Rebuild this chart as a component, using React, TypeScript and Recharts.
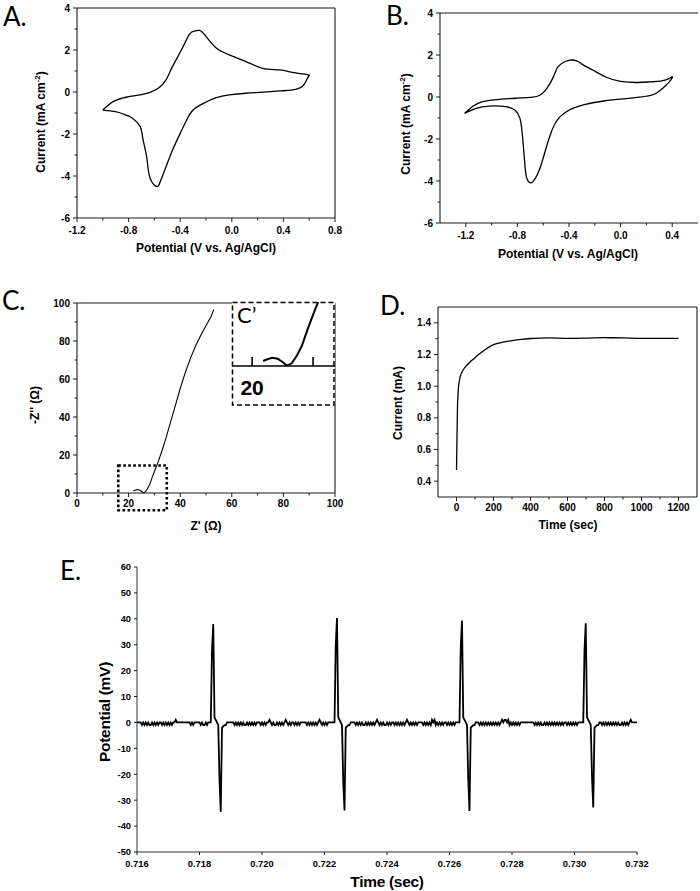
import React from "react";
import { Line, LineChart, ReferenceArea, ReferenceLine, XAxis, YAxis } from "recharts";

// ---------- A: cyclic voltammogram ----------
const cvAPotential = [
    -1.0, -0.92, -0.82, -0.71, -0.64, -0.57, -0.51, -0.46, -0.39, -0.33, -0.29, -0.25, -0.2, -0.12, -0.02, 0.11,
    0.24, 0.37, 0.47, 0.55, 0.6, 0.59, 0.55, 0.47, 0.37, 0.24, 0.11, -0.02, -0.12, -0.22, -0.3, -0.35, -0.4, -0.46,
    -0.51, -0.55, -0.57, -0.6, -0.64, -0.66, -0.69, -0.71, -0.77, -0.82, -0.9, -1.0,
];
const cvACurrent = [
    -0.86, -0.46, -0.25, -0.14, -0.03, 0.18, 0.58, 1.21, 2.01, 2.73, 2.9, 2.93, 2.65, 2.09, 1.77, 1.45, 1.13, 1.05,
    0.93, 0.86, 0.8, 0.7, 0.29, 0.1, 0.05, -0.01, -0.06, -0.14, -0.27, -0.54, -0.86, -1.33, -1.97, -2.77, -3.56,
    -4.2, -4.47, -4.44, -3.96, -3.09, -2.21, -1.65, -1.25, -1.1, -0.94, -0.86,
];

// ---------- B: cyclic voltammogram ----------
const cvBPotential = [
    -1.21, -1.15, -1.07, -0.94, -0.81, -0.68, -0.63, -0.58, -0.52, -0.485, -0.43, -0.39, -0.34, -0.29, -0.21, -0.11,
    0.0, 0.13, 0.23, 0.31, 0.37, 0.4, 0.39, 0.335, 0.26, 0.15, 0.02, -0.13, -0.29, -0.42, -0.5, -0.55, -0.59, -0.63,
    -0.67, -0.7, -0.73, -0.745, -0.76, -0.78, -0.82, -0.89, -1.02, -1.12, -1.21,
];
const cvBCurrent = [
    -0.78, -0.46, -0.22, -0.11, -0.06, -0.01, 0.07, 0.34, 0.97, 1.45, 1.69, 1.76, 1.72, 1.53, 1.26, 0.94, 0.74, 0.69,
    0.72, 0.76, 0.86, 0.97, 0.82, 0.46, 0.13, -0.01, -0.09, -0.19, -0.38, -0.7, -1.18, -1.89, -2.69, -3.48, -3.96,
    -4.09, -3.8, -3.01, -1.89, -1.02, -0.62, -0.46, -0.43, -0.54, -0.78,
];

// ---------- C: Nyquist plot ----------
const eisReal = [21.8, 22.5, 23.3, 24.2, 25.0, 25.7, 26.5, 27.3, 28.2, 29.2, 30.3, 31.5, 33.0, 34.5, 36.2, 38.0, 40.0, 42.0, 44.0, 46.0, 48.0, 50.0, 52.0, 53.0];
const eisImag = [1.1, 1.5, 1.8, 1.6, 0.9, 0.1, 0.6, 2.2, 4.6, 8.5, 12.4, 16.5, 22.5, 29, 37, 45.5, 55, 63.5, 71, 77.5, 83, 88, 93, 96.5];

// ---------- D: chronoamperometry ----------
const caTime = [0, 2, 5, 10, 15, 20, 30, 40, 50, 60, 80, 100, 120, 140, 160, 180, 200, 250, 300, 350, 400, 450, 500, 600, 700, 800, 900, 1000, 1100, 1200];
const caCurrent = [
    0.47, 0.62, 0.85, 0.98, 1.03, 1.06, 1.09, 1.11, 1.125, 1.137, 1.16, 1.18, 1.2, 1.218, 1.235, 1.25, 1.262, 1.278,
    1.288, 1.296, 1.301, 1.304, 1.305, 1.302, 1.303, 1.306, 1.305, 1.302, 1.302, 1.302,
];

// ---------- E: potential trace (sample every 0.04 ms from 0.716 s) ----------
const E_START = 0.716;
const E_STEP = 0.00004;
// baseline noise: "0" = 0 mV, "-" = -1 mV, "+" = +1 mV
const eBaseline0 = ["0000-0-0-0", "--0-0-0-00", "-0-0-0-0-0", "0+00000000", "000-0-0000", "0-0--0-000"].join("");
const eBaseline1 = ["000000-0-0", "-0-0--0-0-", "0-0-000-0-", "0-00+0-0--", "0-0-0-0+0-", "0-00-0-0-0", "0000-0-0-0", "-0-0+0-0-0", "-000000"].join("");
const eBaseline2 = ["0000-0-0-0", "--0-0-0-0-", "0+0-0-0--0", "-0-00-0-0-", "0-0-0+0-0-", "0-0-0000-0", "-0-0-+0+-0", "-0-0-00-0-", "0-0-0000"].join("");
const eBaseline3 = ["000-0-0-0-", "0-0-0-0-0-", "0+0++0+-0-", "0-0-0-0000", "0000000-0-", "0-0--0-0-0", "-0-0-0-0-0", "-00-0-0-0-", "0-00000"].join("");
const eBaseline4 = ["00-0-0-0-0", "-0-0-0--0-", "0-0-0+0000", "0"].join("");
const eSpike1 = [28, 38, 2, 1, 0, -1, -22, -34.5, -2, -1.5, -1, -1];
const eSpike2 = [30, 40.3, 2, 1, 0, -1, -23, -34, -2, -1.5, -1, -1];
const eSpike3 = [29, 39.3, 2, 1, 0, -1, -22, -34.2, -2, -1.5, -1, -1];
const eSpike4 = [28, 38.3, 2, 1, 0, -1, -21, -32.8, -2, -1.5, -1, -1];

const noiseCode: Record<string, number> = { "0": 0, "-": -1, "+": 1 };
const decode = (s: string) => s.split("").map((c) => noiseCode[c]);

const ePotential = [
    ...decode(eBaseline0), ...eSpike1,
    ...decode(eBaseline1), ...eSpike2,
    ...decode(eBaseline2), ...eSpike3,
    ...decode(eBaseline3), ...eSpike4,
    ...decode(eBaseline4),
];

const zip = (xs: number[], ys: number[]) => xs.map((x, i) => ({ x, y: ys[i] }));
const cvAData = zip(cvAPotential, cvACurrent);
const cvBData = zip(cvBPotential, cvBCurrent);
const eisData = zip(eisReal, eisImag);
const caData = zip(caTime, caCurrent);
const eData = ePotential.map((y, i) => ({ x: E_START + i * E_STEP, y }));

// ---------- ticks ----------
const cvYMajor = [-6, -4, -2, 0, 2, 4];
const cvYMinor = [-5, -3, -1, 1, 3];
const cvAXMajor = [-1.2, -0.8, -0.4, 0, 0.4, 0.8];
const cvAXMinor = [-1.0, -0.6, -0.2, 0.2, 0.6];
const cvBXMajor = [-1.2, -0.8, -0.4, 0, 0.4];
const cvBXMinor = [-1.0, -0.6, -0.2, 0.2];
const eisMajor = [0, 20, 40, 60, 80, 100];
const eisMinor = [10, 30, 50, 70, 90];
const caXMajor = [0, 200, 400, 600, 800, 1000, 1200];
const caXMinor = [100, 300, 500, 700, 900, 1100];
const caYMajor = [0.4, 0.6, 0.8, 1.0, 1.2, 1.4];
const caYMinor = [0.5, 0.7, 0.9, 1.1, 1.3];
const eYTicks = [-50, -40, -30, -20, -10, 0, 10, 20, 30, 40, 50, 60];
const eXTicks = [0.716, 0.718, 0.72, 0.722, 0.724, 0.726, 0.728, 0.73, 0.732];

const SANS = "'Liberation Sans', Arial, Helvetica, sans-serif";
const AXIS = "#1a1a1a";

type TickOpts = {
    majors: number[];
    fmt: (v: number) => string;
    major: number;
    minor: number;
    gap: number;
    size: number;
};

const isIn = (list: number[], v: number) => list.some((m) => Math.abs(m - v) < 1e-9);

const makeXTick = (o: TickOpts) => (p: any) => {
    const v = Number(p.payload.value);
    const major = isIn(o.majors, v);
    return (
        <g>
            <line x1={p.x} x2={p.x} y1={p.y} y2={p.y + (major ? o.major : o.minor)} stroke={AXIS} strokeWidth={1} />
            {major && (
                <text x={p.x} y={p.y + o.gap} textAnchor="middle" fontFamily={SANS} fontWeight={700} fontSize={o.size} fill="#000">
                    {o.fmt(v)}
                </text>
            )}
        </g>
    );
};

const makeYTick = (o: TickOpts) => (p: any) => {
    const v = Number(p.payload.value);
    const major = isIn(o.majors, v);
    return (
        <g>
            <line x1={p.x} x2={p.x - (major ? o.major : o.minor)} y1={p.y} y2={p.y} stroke={AXIS} strokeWidth={1} />
            {major && (
                <text x={p.x - o.gap} y={p.y} dy="0.36em" textAnchor="end" fontFamily={SANS} fontWeight={700} fontSize={o.size} fill="#000">
                    {o.fmt(v)}
                </text>
            )}
        </g>
    );
};

const insetTick = (p: any) => {
    const v = Number(p.payload.value);
    return (
        <g>
            <line x1={p.x} x2={p.x} y1={p.y} y2={p.y - 9} stroke="#000" strokeWidth={1.6} />
            {v === 20 && (
                <text x={p.x} y={p.y + 29} textAnchor="middle" fontFamily={SANS} fontWeight={700} fontSize={21} fill="#000">
                    20
                </text>
            )}
        </g>
    );
};

const fmt1 = (v: number) => v.toFixed(1);
const fmt0 = (v: number) => String(Math.round(v));
const fmt3 = (v: number) => v.toFixed(3);

// ---------- layout helpers ----------
type Box = { l: number; t: number; r: number; b: number };
const PAD_L = 60;
const PAD_B = 40;
const PAD_T = 10;

function Plot({ box, data, padR = 10, children }: { box: Box; data: any[]; padR?: number; children: React.ReactNode }) {
    const w = box.r - box.l + PAD_L + padR;
    const h = box.b - box.t + PAD_T + PAD_B;
    return (
        <div style={{ position: "absolute", left: box.l - PAD_L, top: box.t - PAD_T }}>
            <LineChart width={w} height={h} data={data} margin={{ top: PAD_T, right: padR, bottom: 0, left: 0 }}>
                {children}
            </LineChart>
        </div>
    );
}

function Title({ x, y, rotate, style, children }: { x: number; y: number; rotate?: boolean; style?: React.CSSProperties; children: React.ReactNode }) {
    return (
        <div
            style={{
                position: "absolute",
                left: x,
                top: y,
                transform: `translate(-50%, -50%)${rotate ? " rotate(-90deg)" : ""}`,
                whiteSpace: "nowrap",
                lineHeight: 1,
                fontFamily: SANS,
                fontWeight: 700,
                fontSize: 12,
                color: "#000",
                ...style,
            }}
        >
            {children}
        </div>
    );
}

const adTick = { major: 4, minor: 2.5, size: 10 };
const eTick = { major: 3, minor: 3, size: 9.3 };

const boxA: Box = { l: 77, t: 8, r: 335, b: 218 };
const boxB: Box = { l: 440, t: 13, r: 698, b: 223 };
const boxC: Box = { l: 77, t: 303, r: 335, b: 493 };
const boxD: Box = { l: 438, t: 307, r: 697, b: 497 };
const boxE: Box = { l: 137, t: 567, r: 637, b: 852 };

const axisLine = { stroke: AXIS, strokeWidth: 1.1 };
const eTitle: React.CSSProperties = { fontSize: 15.5, letterSpacing: -0.3 };

export default function App() {
    return (
        <div style={{ position: "absolute", left: 0, top: 0, width: 700, height: 891, background: "#fff", overflow: "hidden" }}>
            {/* A */}
            <Plot box={boxA} data={cvAData}>
                <XAxis type="number" dataKey="x" domain={[-1.2, 0.8]} ticks={[...cvAXMajor, ...cvAXMinor]} interval={0}
                    tickSize={0} tickMargin={0} height={PAD_B} axisLine={axisLine} tickLine={false}
                    tick={makeXTick({ ...adTick, majors: cvAXMajor, fmt: fmt1, gap: 16 })} />
                <YAxis type="number" domain={[-6, 4]} ticks={[...cvYMajor, ...cvYMinor]} interval={0}
                    tickSize={0} tickMargin={0} width={PAD_L} axisLine={axisLine} tickLine={false}
                    tick={makeYTick({ ...adTick, majors: cvYMajor, fmt: fmt0, gap: 7 })} />
                <ReferenceLine y={4} stroke={AXIS} strokeWidth={1.1} />
                <ReferenceLine x={0.8} stroke={AXIS} strokeWidth={1.1} />
                <Line dataKey="y" type="natural" stroke="#000" strokeWidth={1.3} dot={false} isAnimationActive={false} />
            </Plot>
            <Title x={40} y={122} rotate>
                Current (mA cm<sup style={{ fontSize: 8 }}>-2</sup>)
            </Title>
            <Title x={206} y={248}>Potential (V vs. Ag/AgCl)</Title>

            {/* B */}
            <Plot box={boxB} data={cvBData}>
                <XAxis type="number" dataKey="x" domain={[-1.4, 0.6]} ticks={[...cvBXMajor, ...cvBXMinor]} interval={0}
                    tickSize={0} tickMargin={0} height={PAD_B} axisLine={axisLine} tickLine={false}
                    tick={makeXTick({ ...adTick, majors: cvBXMajor, fmt: fmt1, gap: 16 })} />
                <YAxis type="number" domain={[-6, 4]} ticks={[...cvYMajor, ...cvYMinor]} interval={0}
                    tickSize={0} tickMargin={0} width={PAD_L} axisLine={axisLine} tickLine={false}
                    tick={makeYTick({ ...adTick, majors: cvYMajor, fmt: fmt0, gap: 7 })} />
                <ReferenceLine y={4} stroke={AXIS} strokeWidth={1.1} />
                <Line dataKey="y" type="natural" stroke="#000" strokeWidth={1.3} dot={false} isAnimationActive={false} />
            </Plot>
            <Title x={405} y={124} rotate>
                Current (mA cm<sup style={{ fontSize: 8 }}>-2</sup>)
            </Title>
            <Title x={568} y={254}>Potential (V vs. Ag/AgCl)</Title>

            {/* C */}
            <Plot box={boxC} data={eisData}>
                <XAxis type="number" dataKey="x" domain={[0, 100]} ticks={[...eisMajor, ...eisMinor]} interval={0}
                    tickSize={0} tickMargin={0} height={PAD_B} axisLine={axisLine} tickLine={false}
                    tick={makeXTick({ ...adTick, majors: eisMajor, fmt: fmt0, gap: 14 })} />
                <YAxis type="number" domain={[0, 100]} ticks={[...eisMajor, ...eisMinor]} interval={0}
                    tickSize={0} tickMargin={0} width={PAD_L} axisLine={axisLine} tickLine={false}
                    tick={makeYTick({ ...adTick, majors: eisMajor, fmt: fmt0, gap: 7 })} />
                <ReferenceLine y={100} stroke={AXIS} strokeWidth={1.1} />
                <ReferenceLine x={100} stroke={AXIS} strokeWidth={1.1} />
                <ReferenceArea x1={16} x2={34.8} y1={-9.1} y2={14.5} ifOverflow="visible" fill="none" fillOpacity={0}
                    stroke="#000" strokeWidth={2.6} strokeDasharray="2.6 2.4" />
                <Line dataKey="y" type="linear" stroke="#000" strokeWidth={1.1} dot={false} isAnimationActive={false} />
            </Plot>
            <div style={{ position: "absolute", left: 232, top: 302, width: 103, height: 103, background: "#fff" }}>
                <LineChart width={103} height={103} data={eisData} margin={{ top: 0, right: 0, bottom: 0, left: 0 }}>
                    <XAxis type="number" dataKey="x" domain={[16.7, 33.6]} allowDataOverflow ticks={[20, 30]} interval={0}
                        tickSize={0} tickMargin={0} height={39} axisLine={{ stroke: "#000", strokeWidth: 1.6 }} tickLine={false}
                        tick={insetTick} />
                    <YAxis type="number" domain={[0, 14.2]} allowDataOverflow hide />
                    <Line dataKey="y" type="linear" stroke="#000" strokeWidth={2} dot={false} isAnimationActive={false} />
                </LineChart>
            </div>
            <Title x={35} y={405} rotate>
                -Z'' (Ω)
            </Title>
            <Title x={206} y={526}>Z' (Ω)</Title>

            {/* D */}
            <Plot box={boxD} data={caData}>
                <XAxis type="number" dataKey="x" domain={[-100, 1300]} ticks={[...caXMajor, ...caXMinor]} interval={0}
                    tickSize={0} tickMargin={0} height={PAD_B} axisLine={axisLine} tickLine={false}
                    tick={makeXTick({ ...adTick, majors: caXMajor, fmt: fmt0, gap: 14 })} />
                <YAxis type="number" domain={[0.3, 1.5]} ticks={[...caYMajor, ...caYMinor]} interval={0}
                    tickSize={0} tickMargin={0} width={PAD_L} axisLine={axisLine} tickLine={false}
                    tick={makeYTick({ ...adTick, majors: caYMajor, fmt: fmt1, gap: 7 })} />
                <ReferenceLine y={1.5} stroke={AXIS} strokeWidth={1.1} />
                <ReferenceLine x={1300} stroke={AXIS} strokeWidth={1.1} />
                <Line dataKey="y" type="monotone" stroke="#000" strokeWidth={1.3} dot={false} isAnimationActive={false} />
            </Plot>
            <Title x={398} y={403} rotate>Current (mA)</Title>
            <Title x={568} y={525}>Time (sec)</Title>

            {/* E */}
            <Plot box={boxE} data={eData} padR={30}>
                <XAxis type="number" dataKey="x" domain={[0.716, 0.732]} ticks={eXTicks} interval={0}
                    tickSize={0} tickMargin={0} height={PAD_B} axisLine={{ stroke: "#333", strokeWidth: 1 }} tickLine={false}
                    tick={makeXTick({ ...eTick, majors: eXTicks, fmt: fmt3, gap: 15 })} />
                <YAxis type="number" domain={[-50, 60]} ticks={eYTicks} interval={0}
                    tickSize={0} tickMargin={0} width={PAD_L} axisLine={{ stroke: "#333", strokeWidth: 1 }} tickLine={false}
                    tick={makeYTick({ ...eTick, majors: eYTicks, fmt: fmt0, gap: 6 })} />
                <Line dataKey="y" type="linear" stroke="#000" strokeWidth={1.8} dot={false} isAnimationActive={false} />
            </Plot>
            <Title x={105} y={712} rotate style={eTitle}>Potential (mV)</Title>
            <Title x={387} y={882} style={eTitle}>Time (sec)</Title>

            {/* panel letters and inset frame */}
            <svg width={700} height={891} style={{ position: "absolute", left: 0, top: 0, pointerEvents: "none" }}>
                <rect x={232.5} y={302.5} width={101.5} height={102.5} fill="none" stroke="#000" strokeWidth={1.5} strokeDasharray="5 3" />
                <g fontFamily="Lato, 'Open Sans', sans-serif" fontSize={26} fill="#000">
                    <text x={3} y={26}>A.</text>
                    <text x={386} y={25}>B.</text>
                    <text x={2} y={310}>C.</text>
                    <text x={380} y={315}>D.</text>
                    <text x={60} y={580}>E.</text>
                    <text x={237} y={323} fontSize={22}>C’</text>
                </g>
            </svg>
        </div>
    );
}
